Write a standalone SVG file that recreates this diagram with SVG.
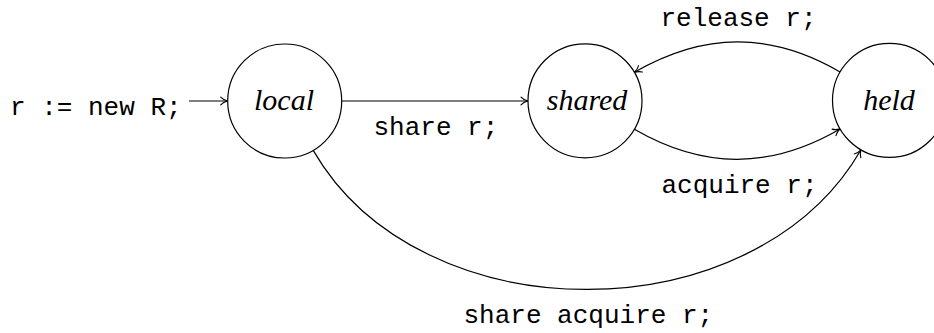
<svg xmlns="http://www.w3.org/2000/svg" width="934" height="333" viewBox="0 0 934 333">
  <style>
    .state { fill: #fff; stroke: #000; stroke-width: 1.2; }
    .name { font-family: "Liberation Serif", "DejaVu Serif", serif; font-style: italic; font-size: 30px; fill: #000; text-anchor: middle; }
    .code { font-family: "Liberation Mono", "DejaVu Sans Mono", monospace; font-size: 26px; fill: #000; }
    .edge { fill: none; stroke: #000; stroke-width: 1.2; marker-end: url(#tip); }
  </style>
  <defs>
    <marker id="tip" markerUnits="userSpaceOnUse" viewBox="-9 -6 11 12" markerWidth="11" markerHeight="12" refX="0" refY="0" orient="auto">
      <path d="M-7,-3.8 C-5,-1.6 -2,-0.5 0,0 C-2,0.5 -5,1.6 -7,3.8" fill="none" stroke="#000" stroke-width="1.1" stroke-linecap="round"/>
    </marker>
  </defs>

  <g id="connectors">
    <!-- initial arrow into local -->
    <path class="edge" d="M189,101 L227.7,101"/>
    <!-- local -> shared -->
    <path class="edge" d="M341.7,101 L528,101"/>
    <!-- held -> shared (bend right, over the top) -->
    <path class="edge" d="M840.1,71.9 C770.4,31.6 704.1,32 634.4,72.3"/>
    <!-- shared -> held (bend right, underneath) -->
    <path class="edge" d="M634.4,129.3 C704.1,169.6 770.4,169.2 840.1,128.9"/>
    <!-- local -> held (wide arc below) -->
    <path class="edge" d="M313.2,150.4 C420.5,336.2 753.8,335.6 861,149.8"/>
  </g>

  <g id="labels">
    <text class="code" x="10" y="115" xml:space="preserve">r := new R;</text>
    <text class="code" x="373.5" y="135" xml:space="preserve">share r;</text>
    <text class="code" x="660.5" y="26" xml:space="preserve">release r;</text>
    <text class="code" x="661.5" y="193" xml:space="preserve">acquire r;</text>
    <text class="code" x="463.5" y="323" xml:space="preserve">share acquire r;</text>
  </g>

  <g id="local">
    <circle class="state" cx="284.7" cy="101" r="57"/>
    <text class="name" x="284" y="110">local</text>
  </g>
  <g id="shared">
    <circle class="state" cx="585" cy="100.8" r="57"/>
    <text class="name" x="587" y="110">shared</text>
  </g>
  <g id="held">
    <circle class="state" cx="889.5" cy="100.4" r="57"/>
    <text class="name" x="889" y="110">held</text>
  </g>
</svg>
